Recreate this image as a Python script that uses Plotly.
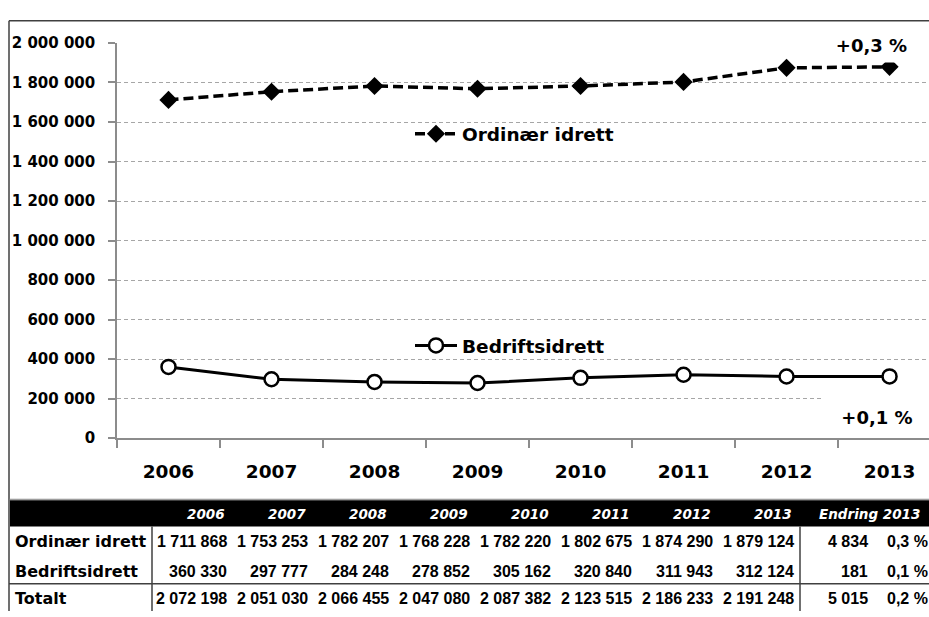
import plotly.graph_objects as go

# ---------------- data ----------------
years = ["2006", "2007", "2008", "2009", "2010", "2011", "2012", "2013"]
ordinaer = [1711868, 1753253, 1782207, 1768228, 1782220, 1802675, 1874290, 1879124]
bedrift = [360330, 297777, 284248, 278852, 305162, 320840, 311943, 312124]
totalt = [2072198, 2051030, 2066455, 2047080, 2087382, 2123515, 2186233, 2191248]
row_labels = ["Ordinær idrett", "Bedriftsidrett", "Totalt"]
endring_abs = [4834, 181, 5015]
endring_pct = [0.3, 0.1, 0.2]
endring_header = "Endring 2013"
y_ticks = [0, 200000, 400000, 600000, 800000, 1000000, 1200000, 1400000,
           1600000, 1800000, 2000000]

# ---------------- layout helpers ----------------
W, H = 929, 617
def px(x):
    return x / W
def py(y):
    return 1 - y / H

def fmt_int(v):
    return f"{v:,}".replace(",", " ")

def fmt_pct(v):
    return f"{v:.1f}".replace(".", ",") + " %"

FONT = "DejaVu Sans"
NUMFONT = "Liberation Sans"

fig = go.Figure()

fig.add_trace(go.Scatter(
    x=years, y=ordinaer, name=row_labels[0], mode="lines+markers",
    line=dict(color="black", width=3.5, dash="10px,5px"),
    marker=dict(symbol="diamond", size=14, color="black"),
    legend="legend", hoverinfo="skip",
))
fig.add_trace(go.Scatter(
    x=years, y=bedrift, name=row_labels[1], mode="lines+markers",
    line=dict(color="black", width=3),
    marker=dict(symbol="circle", size=14, color="white",
                line=dict(color="black", width=2.5)),
    legend="legend2", hoverinfo="skip",
))

grid_col = "#a6a6a6"
axis_col = "#8c8c8c"

fig.update_layout(
    width=W, height=H, autosize=False,
    margin=dict(l=0, r=0, t=0, b=0),
    paper_bgcolor="white", plot_bgcolor="white",
    separators=", ",
    font=dict(family=FONT, color="black"),
    xaxis=dict(
        type="category", domain=[px(117), 1], range=[-0.5, 7.383],
        tickson="boundaries", ticks="outside", ticklen=8, tickcolor=axis_col,
        tickwidth=1.5, showline=True, linecolor=axis_col, linewidth=1.5,
        showgrid=False, zeroline=False,
        tickfont=dict(family=FONT, size=18.5, weight="bold", color="black"),
        ticklabelstandoff=16,
    ),
    yaxis=dict(
        domain=[py(442), py(35)], range=[0, 2000000],
        tickvals=y_ticks, tickformat=",d",
        ticks="outside", ticklen=7, tickcolor=axis_col, tickwidth=1.5,
        showline=True, linecolor=axis_col, linewidth=1.5,
        showgrid=True, gridcolor=grid_col, gridwidth=1, griddash="4px,3px",
        zeroline=False,
        tickfont=dict(family=FONT, size=15, weight="bold", color="black"),
        ticklabelstandoff=10,
    ),
    legend=dict(
        x=px(410), y=py(129), xanchor="left", yanchor="middle",
        bgcolor="rgba(0,0,0,0)", borderwidth=0, itemwidth=42,
        font=dict(family=FONT, size=18.5, weight="bold", color="black"),
        itemclick=False, itemdoubleclick=False,
    ),
    legend2=dict(
        x=px(410), y=py(347), xanchor="left", yanchor="middle",
        bgcolor="rgba(0,0,0,0)", borderwidth=0, itemwidth=42,
        font=dict(family=FONT, size=18.5, weight="bold", color="black"),
        itemclick=False, itemdoubleclick=False,
    ),
    showlegend=True,
)

# change labels with white boxes
fig.add_annotation(
    text="+" + fmt_pct(endring_pct[0]), xref="paper", yref="paper",
    x=px(871), y=py(37), xanchor="center", yanchor="middle",
    showarrow=False, bgcolor="white", width=107, height=32,
    font=dict(family=FONT, size=18, weight="bold", color="black"),
)
fig.add_annotation(
    text="+" + fmt_pct(endring_pct[1]), xref="paper", yref="paper",
    x=px(877), y=py(420), xanchor="center", yanchor="middle",
    showarrow=False, bgcolor="white", width=104, height=38,
    font=dict(family=FONT, size=18, weight="bold", color="black"),
)

# ---------------- frame & table ----------------
dark = "#404040"
shapes = [
    dict(type="line", xref="paper", yref="paper", x0=px(9), x1=px(940),
         y0=py(12), y1=py(12), line=dict(color=dark, width=1.5)),
    dict(type="line", xref="paper", yref="paper", x0=px(9), x1=px(9),
         y0=py(12), y1=py(620), line=dict(color=dark, width=1.5)),
    dict(type="line", xref="paper", yref="paper", x0=px(9), x1=px(940),
         y0=py(505), y1=py(505), line=dict(color="#808080", width=1)),
    dict(type="rect", xref="paper", yref="paper", x0=px(10), x1=px(940),
         y0=py(533), y1=py(506), fillcolor="black", line=dict(width=0)),
    dict(type="line", xref="paper", yref="paper", x0=px(152), x1=px(152),
         y0=py(533), y1=py(620), line=dict(color=dark, width=1.5)),
    dict(type="line", xref="paper", yref="paper", x0=px(800), x1=px(800),
         y0=py(533), y1=py(620), line=dict(color=dark, width=1.5)),
    dict(type="line", xref="paper", yref="paper", x0=px(9), x1=px(940),
         y0=py(592), y1=py(592), line=dict(color=dark, width=1.5)),
]
fig.update_layout(shapes=shapes)

col_right = [229 + 81 * k for k in range(len(years))]
row_y = [549, 579, 607]
hdr_y = 520

for k, yr in enumerate(years):
    fig.add_annotation(
        text=yr, xref="paper", yref="paper", x=px(col_right[k] - 2), y=py(hdr_y),
        xanchor="right", yanchor="middle", showarrow=False,
        font=dict(family=FONT, size=13.5, weight="bold", style="italic", color="white"),
    )
fig.add_annotation(
    text=endring_header, xref="paper", yref="paper", x=px(817), y=py(hdr_y),
    xanchor="left", yanchor="middle", showarrow=False,
    font=dict(family=FONT, size=13.5, weight="bold", style="italic", color="white"),
)

rows = [ordinaer, bedrift, totalt]
for r, (label, vals) in enumerate(zip(row_labels, rows)):
    fig.add_annotation(
        text=label, xref="paper", yref="paper", x=px(13), y=py(row_y[r]),
        xanchor="left", yanchor="middle", showarrow=False,
        font=dict(family=FONT, size=16, weight="bold", color="black"),
    )
    for k, v in enumerate(vals):
        fig.add_annotation(
            text=fmt_int(v), xref="paper", yref="paper",
            x=px(col_right[k]), y=py(row_y[r]),
            xanchor="right", yanchor="middle", showarrow=False,
            font=dict(family=NUMFONT, size=16, weight="bold", color="black"),
        )
    fig.add_annotation(
        text=fmt_int(endring_abs[r]), xref="paper", yref="paper",
        x=px(870), y=py(row_y[r]), xanchor="right", yanchor="middle",
        showarrow=False,
        font=dict(family=NUMFONT, size=16, weight="bold", color="black"),
    )
    fig.add_annotation(
        text=fmt_pct(endring_pct[r]), xref="paper", yref="paper",
        x=px(885), y=py(row_y[r]), xanchor="left", yanchor="middle",
        showarrow=False,
        font=dict(family=NUMFONT, size=16, weight="bold", color="black"),
    )

fig.write_html("out.html", config={"displayModeBar": False},
               post_script="document.body.style.margin='0px';document.body.style.overflow='hidden';")
